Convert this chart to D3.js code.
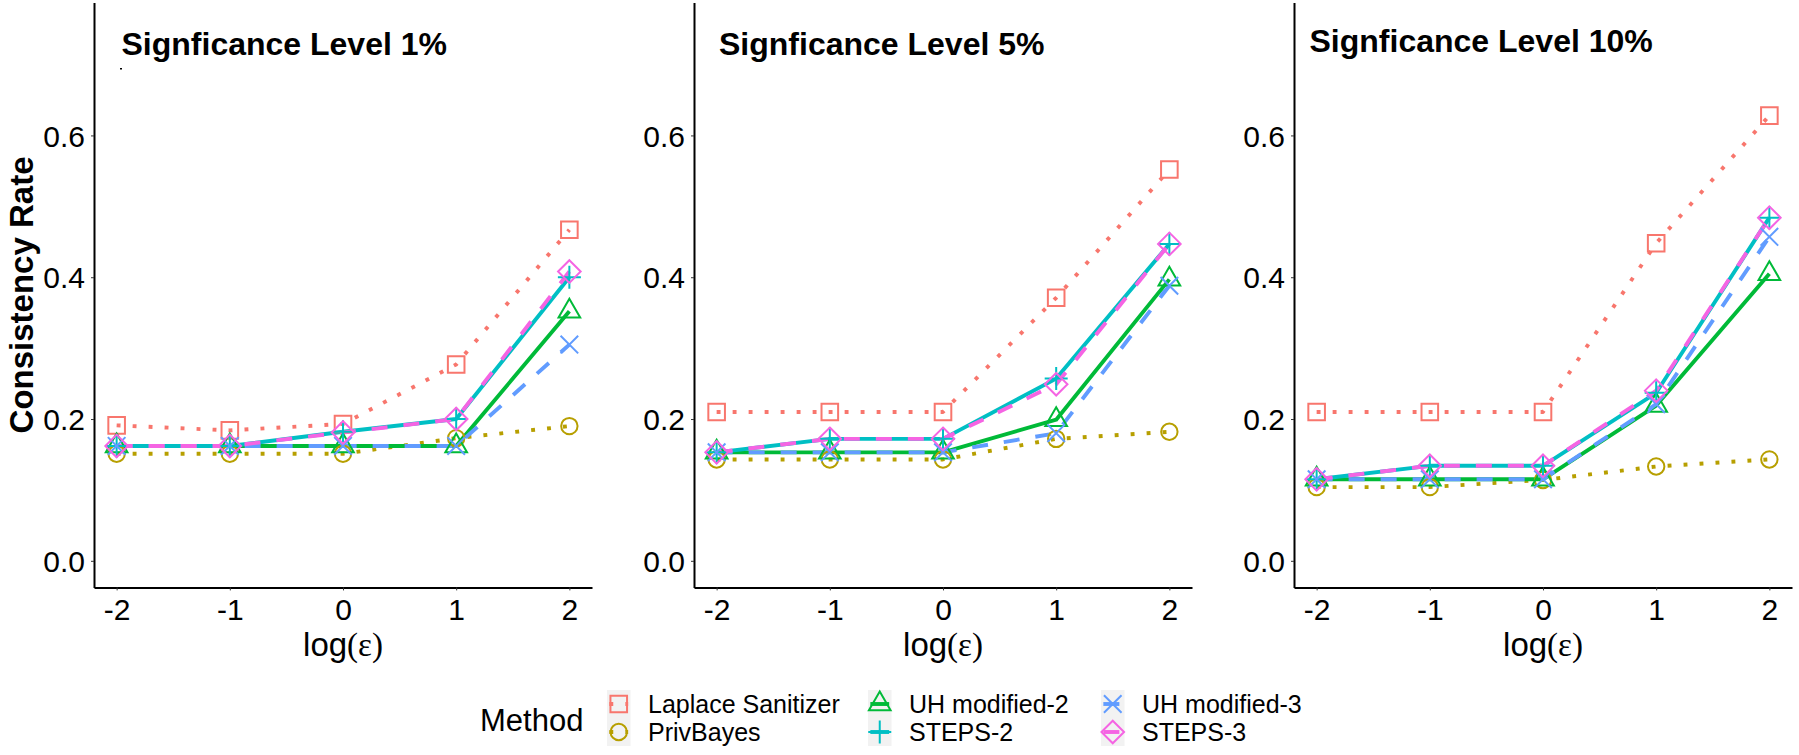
<!DOCTYPE html>
<html>
<head>
<meta charset="utf-8">
<script src="https://cdn.jsdelivr.net/npm/d3@7"></script>
<style>
  html, body { margin: 0; padding: 0; background: #ffffff; }
  svg { display: block; }
</style>
</head>
<body>
<svg id="chart" width="1799" height="755"></svg>
<script>
// ---------------- DATA ----------------
const xValues = [-2, -1, 0, 1, 2];
const methods = ["Laplace Sanitizer", "PrivBayes", "UH modified-2", "STEPS-2", "UH modified-3", "STEPS-3"];
const methodColors = ["#F8766D", "#B79F00", "#00BA38", "#00BFC4", "#619CFF", "#F564E3"];
const methodShapes = ["square", "circle", "triangle", "plus", "cross", "diamond"];
const methodLineTypes = ["dotted", "dotted", "solid", "solid", "dashed", "dashed"];
const panelTitles = ["Signficance Level 1%", "Signficance Level 5%", "Signficance Level 10%"];
const yTickValues = [0.0, 0.2, 0.4, 0.6];
const xTickValues = [-2, -1, 0, 1, 2];

// consistency rate, one row per method (same order as `methods`)
const level1Values = [
  [0.191, 0.184, 0.193, 0.277, 0.467],
  [0.151, 0.151, 0.151, 0.173, 0.190],
  [0.162, 0.162, 0.162, 0.162, 0.352],
  [0.162, 0.162, 0.182, 0.200, 0.400],
  [0.162, 0.162, 0.162, 0.162, 0.305],
  [0.162, 0.162, 0.181, 0.200, 0.408]
];
const level5Values = [
  [0.210, 0.210, 0.210, 0.371, 0.552],
  [0.143, 0.143, 0.143, 0.172, 0.182],
  [0.153, 0.153, 0.153, 0.199, 0.397],
  [0.153, 0.172, 0.172, 0.257, 0.447],
  [0.153, 0.153, 0.153, 0.180, 0.388],
  [0.153, 0.172, 0.172, 0.249, 0.447]
];
const level10Values = [
  [0.210, 0.210, 0.210, 0.448, 0.628],
  [0.104, 0.104, 0.114, 0.133, 0.143],
  [0.115, 0.115, 0.115, 0.219, 0.405],
  [0.115, 0.134, 0.134, 0.237, 0.484],
  [0.115, 0.115, 0.115, 0.221, 0.457],
  [0.115, 0.134, 0.134, 0.240, 0.484]
];
const panelValues = [level1Values, level5Values, level10Values];

// ---------------- LAYOUT ----------------
const SANS = "'Liberation Sans', Arial, sans-serif";
const SERIF = "'Liberation Serif', 'Times New Roman', serif";
const panelLeft0 = 94, panelStep = 600, panelWidth = 498;
const panelTop = 2.5, panelBottom = 587.4;
const titlePos = [[121.5, 55], [719, 55], [1309.5, 51.5]];
const lineWidth = 3.9;
const markerStroke = 2;
const dashFor = { solid: null, dotted: "3.9,12.1", dashed: "16,16" };

const svg = d3.select("#chart");

function circlePath(r) {
  return `M${-r},0A${r},${r} 0 1,0 ${r},0A${r},${r} 0 1,0 ${-r},0Z`;
}
function markerPath(shape) {
  switch (shape) {
    case "square": return "M-8.3,-8.3H8.3V8.3H-8.3Z";
    case "circle": return circlePath(8.2);
    case "triangle": { const r = 12.5, h = r * Math.sqrt(3) / 2; return `M0,${-r}L${h},${r/2}L${-h},${r/2}Z`; }
    case "plus": return "M-11.5,0H11.5M0,-11.5V11.5";
    case "cross": return "M-8.8,-8.8L8.8,8.8M-8.8,8.8L8.8,-8.8";
    case "diamond": return "M0,-11.3L11.3,0L0,11.3L-11.3,0Z";
  }
}

const y = d3.scaleLinear().domain([-0.0375, 0.7875]).range([panelBottom, panelTop]);

panelValues.forEach((vals, p) => {
  const left = panelLeft0 + p * panelStep;
  const x = d3.scaleLinear().domain([-2.2, 2.2]).range([left, left + panelWidth]);
  const g = svg.append("g");

  // lines
  const line = d3.line().x((d, i) => x(xValues[i])).y(d => y(d));
  vals.forEach((series, m) => {
    g.append("path")
      .attr("d", line(series))
      .attr("fill", "none")
      .attr("stroke", methodColors[m])
      .attr("stroke-width", lineWidth)
      .attr("stroke-linecap", "butt")
      .attr("stroke-linejoin", "round")
      .attr("stroke-dasharray", dashFor[methodLineTypes[m]]);
  });
  // points
  vals.forEach((series, m) => {
    g.selectAll(null).data(series).enter().append("path")
      .attr("transform", (d, i) => `translate(${x(xValues[i])},${y(d)})`)
      .attr("d", markerPath(methodShapes[m]))
      .attr("fill", "none")
      .attr("stroke", methodColors[m])
      .attr("stroke-width", markerStroke);
  });

  // axes
  const xAxis = d3.axisBottom(x).tickValues(xTickValues).tickFormat(d3.format("d"))
    .tickSize(3).tickSizeOuter(0).tickPadding(8);
  const gx = svg.append("g").attr("transform", `translate(0,${panelBottom})`).call(xAxis);
  gx.select(".domain").attr("stroke", "#000").attr("stroke-width", 2);
  gx.selectAll(".tick line").attr("stroke", "#333").attr("stroke-width", 1);
  gx.selectAll(".tick text").attr("fill", "#000").style("font-family", SANS).style("font-size", "30px")
    .text(d => d < 0 ? "-" + Math.abs(d) : String(d));

  const yAxis = d3.axisLeft(y).tickValues(yTickValues).tickFormat(d3.format(".1f"))
    .tickSize(3).tickSizeOuter(0).tickPadding(6);
  const gy = svg.append("g").attr("transform", `translate(${left},0)`).call(yAxis);
  gy.select(".domain").attr("stroke", "#000").attr("stroke-width", 2);
  gy.selectAll(".tick line").attr("stroke", "#333").attr("stroke-width", 1);
  gy.selectAll(".tick text").attr("fill", "#000").style("font-family", SANS).style("font-size", "30px")
    .attr("dy", "0.355em");

  // x axis title log(ε)
  const xt = svg.append("text")
    .attr("x", x(0)).attr("y", 656)
    .attr("text-anchor", "middle")
    .style("font-size", "33px").attr("fill", "#000");
  xt.append("tspan").style("font-family", SANS).text("log");
  xt.append("tspan").style("font-family", SERIF).text("(ε)");

  // panel title
  svg.append("text")
    .attr("x", titlePos[p][0]).attr("y", titlePos[p][1])
    .style("font-family", SANS).style("font-size", "32px").style("font-weight", "bold")
    .attr("fill", "#000")
    .text(panelTitles[p]);
});

// tiny stray mark present in the source under the first title
svg.append("rect").attr("x", 120).attr("y", 68).attr("width", 2).attr("height", 1.5).attr("fill", "#000");

// y axis title
svg.append("text")
  .attr("transform", `translate(33,${(panelTop + panelBottom) / 2}) rotate(-90)`)
  .attr("text-anchor", "middle")
  .style("font-family", SANS).style("font-size", "33px").style("font-weight", "bold")
  .attr("fill", "#000")
  .text("Consistency Rate");

// ---------------- LEGEND ----------------
svg.append("text")
  .attr("x", 480).attr("y", 731)
  .style("font-family", SANS).style("font-size", "31px").attr("fill", "#000")
  .text("Method");

const keyLeft = [607, 868, 1101];
const keyW = 23.5, keyH = 28;
const keyTop = 690;
methods.forEach((name, m) => {
  const col = Math.floor(m / 2), row = m % 2;
  const kx = keyLeft[col], ky = keyTop + row * keyH;
  const g = svg.append("g");
  g.append("rect").attr("x", kx).attr("y", ky).attr("width", keyW).attr("height", keyH).attr("fill", "#F2F2F2");
  const cy = ky + keyH / 2;
  g.append("line")
    .attr("x1", kx + keyW * 0.1).attr("x2", kx + keyW * 0.9)
    .attr("y1", cy).attr("y2", cy)
    .attr("stroke", methodColors[m]).attr("stroke-width", lineWidth)
    .attr("stroke-dasharray", dashFor[methodLineTypes[m]]);
  g.append("path")
    .attr("transform", `translate(${kx + keyW / 2},${cy})`)
    .attr("d", markerPath(methodShapes[m]))
    .attr("fill", "none").attr("stroke", methodColors[m]).attr("stroke-width", markerStroke);
  g.append("text")
    .attr("x", kx + 41).attr("y", cy + 9)
    .style("font-family", SANS).style("font-size", "25px").attr("fill", "#000")
    .text(name);
});
</script>
</body>
</html>
